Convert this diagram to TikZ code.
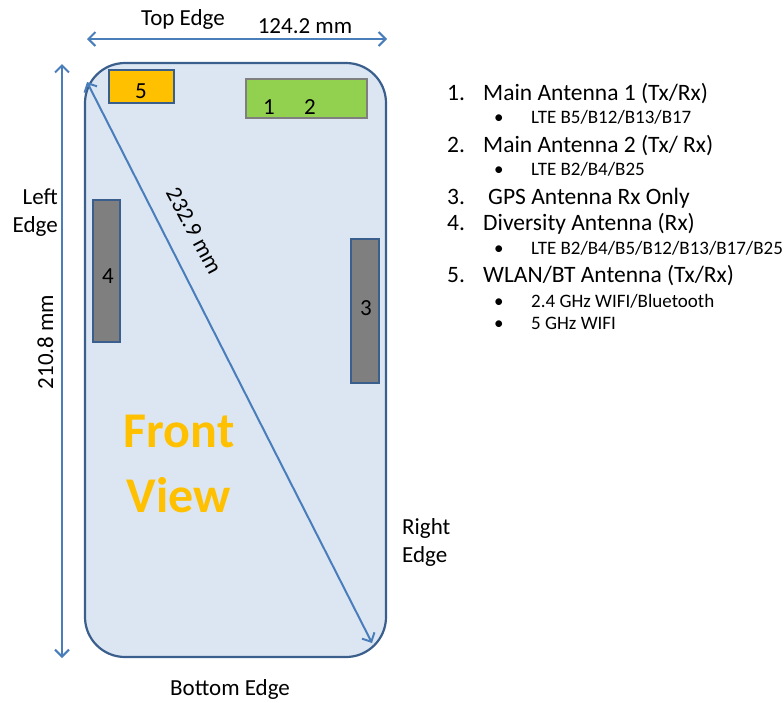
\documentclass[tikz,border=0pt]{standalone}
\usepackage{fontspec}
\setmainfont{Carlito}
\usetikzlibrary{arrows.meta}
\definecolor{phonefill}{HTML}{DCE6F2}
\definecolor{phoneline}{HTML}{3A5F8C}
\definecolor{dimblue}{HTML}{4A7EBB}
\definecolor{orangebox}{HTML}{FFC000}
\definecolor{greenbox}{HTML}{92D050}
\definecolor{graybox}{HTML}{7F7F7F}
\tikzset{
  dimarrow/.style={draw=dimblue, line width=2pt, {Straight Barb[length=7pt,width=14pt]}-{Straight Barb[length=7pt,width=14pt]}},
  lbl/.style={font=\fontsize{23}{26}\selectfont, inner sep=0pt},
  legmain/.style={font=\fontsize{23.5}{26}\selectfont, inner sep=0pt, anchor=base west},
  legsub/.style={font=\fontsize{19}{22}\selectfont, inner sep=0pt, anchor=base west},
  antenna/.style={draw=phoneline, line width=2.2pt, inner sep=0pt},
}
\begin{document}
\begin{tikzpicture}[x=1pt,y=-1pt]
\useasboundingbox (0,0) rectangle (784,702);
% phone body
\node[draw=phoneline, fill=phonefill, line width=2.2pt, rounded corners=40pt,
      minimum width=301pt, minimum height=594pt, inner sep=0pt] (phone) at (235.5,360) {};
% antennas
\node[antenna, fill=orangebox, minimum width=65pt, minimum height=33pt] (a5) at (141.5,86.5) {};
\node[antenna, draw=graybox, fill=greenbox, minimum width=121pt, minimum height=39pt] (a12) at (306.5,98.5) {};
\node[antenna, fill=graybox, minimum width=27pt, minimum height=142pt] (a4) at (106.5,271) {};
\node[antenna, fill=graybox, minimum width=28pt, minimum height=144pt] (a3) at (365,311) {};
\node[lbl, anchor=base] (n5) at (141,98) {5};
\node[lbl, anchor=base] (n1) at (269,114) {1};
\node[lbl, anchor=base] (n2) at (310,114) {2};
\node[lbl] (n4) at (108,276) {4};
\node[lbl] (n3) at (366,308) {3};
% front view
\node[font=\fontsize{50}{52}\bfseries, text=orangebox, inner sep=0pt, anchor=base] (fv1) at (179,447) {Front};
\node[font=\fontsize{50}{52}\bfseries, text=orangebox, inner sep=0pt, anchor=base] (fv2) at (179,512) {View};
% dimension arrows
\coordinate (tl) at (87,39);
\coordinate (tr) at (387,39);
\draw[dimarrow] (tl) -- (tr);
\coordinate (lt) at (62,64);
\coordinate (lb) at (62,658);
\draw[dimarrow] (lt) -- (lb);
\coordinate (dt) at (87,82);
\coordinate (db) at (372,643);
\draw[dimarrow] (dt) -- (db);
% labels
\node[lbl, anchor=base] (top) at (183,25) {Top Edge};
\node[lbl, anchor=base] (w) at (305,33) {124.2 mm};
\node[lbl, anchor=base east] (le1) at (58,204) {Left};
\node[lbl, anchor=base east] (le2) at (58,232) {Edge};
\node[lbl, anchor=base, rotate=90] (h) at (53,342) {210.8 mm};
\node[lbl, anchor=base west] (re1) at (402,534) {Right};
\node[lbl, anchor=base west] (re2) at (402,562) {Edge};
\node[lbl, anchor=base] (bot) at (230,695) {Bottom Edge};
\node[lbl, rotate=-62] (diag) at (194,231) {232.9 mm};
% legend
\node[legmain] (l1n) at (447,100) {1.};
\node[legmain] (l1) at (483,100) {Main Antenna 1 (Tx/Rx)};
\node[legsub] (s1b) at (494,123) {•};
\node[legsub] (s1) at (531,123) {LTE B5/B12/B13/B17};
\node[legmain] (l2n) at (447,152) {2.};
\node[legmain] (l2) at (483,152) {Main Antenna 2 (Tx/ Rx)};
\node[legsub] (s2b) at (494,175) {•};
\node[legsub] (s2) at (531,175) {LTE B2/B4/B25};
\node[legmain] (l3n) at (447,204) {3.};
\node[legmain] (l3) at (488,204) {GPS Antenna Rx Only};
\node[legmain] (l4n) at (447,230) {4.};
\node[legmain] (l4) at (483,230) {Diversity Antenna (Rx)};
\node[legsub] (s4b) at (494,254) {•};
\node[legsub] (s4) at (531,254) {LTE B2/B4/B5/B12/B13/B17/B25};
\node[legmain] (l5n) at (447,282) {5.};
\node[legmain] (l5) at (483,282) {WLAN/BT Antenna (Tx/Rx)};
\node[legsub] (s5b) at (494,307) {•};
\node[legsub] (s5) at (531,307) {2.4 GHz WIFI/Bluetooth};
\node[legsub] (s6b) at (494,329) {•};
\node[legsub] (s6) at (531,329) {5 GHz WIFI};
\end{tikzpicture}
\end{document}
